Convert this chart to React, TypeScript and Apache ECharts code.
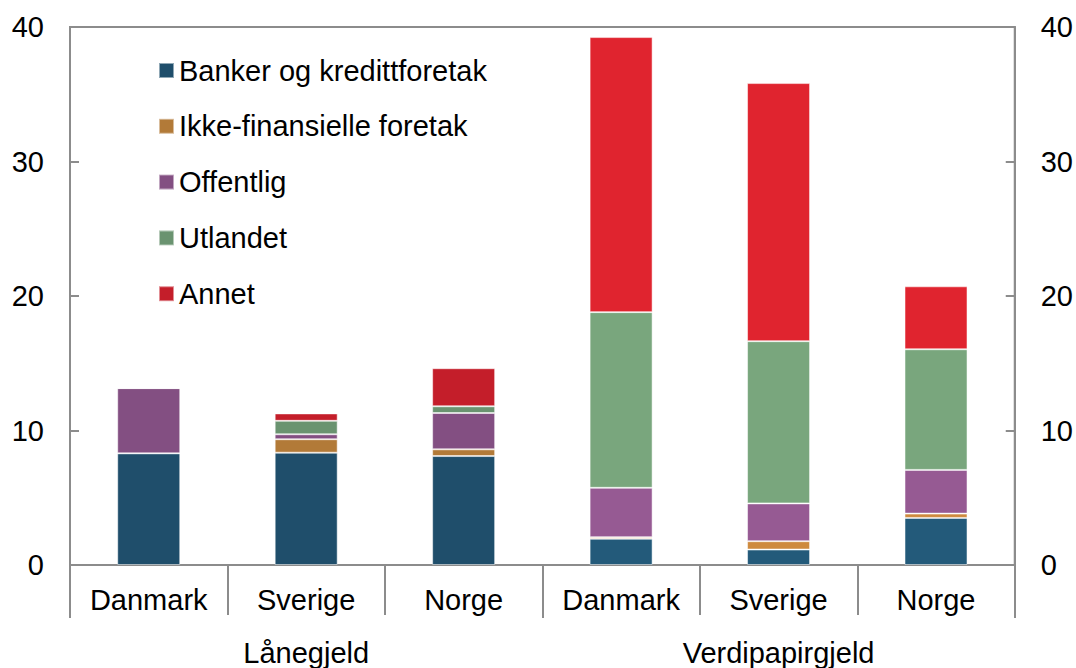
import React, { useEffect, useRef } from "react";
import * as echarts from "echarts";

const categories = ["Danmark", "Sverige", "Norge", "Danmark", "Sverige", "Norge"];
const groups = ["Lånegjeld", "Verdipapirgjeld"];
const yTicks = [0, 10, 20, 30, 40];

const seriesNames = [
  "Banker og kredittforetak",
  "Ikke-finansielle foretak",
  "Offentlig",
  "Utlandet",
  "Annet",
];
const banker = [8.3, 8.35, 8.1, 1.95, 1.15, 3.5];
const ikkeFin = [0, 1.0, 0.5, 0.12, 0.62, 0.32];
const offentlig = [4.85, 0.37, 2.7, 3.67, 2.81, 3.25];
const utlandet = [0, 1.0, 0.5, 13.06, 12.06, 8.97];
const annet = [0, 0.55, 2.83, 20.45, 19.19, 4.68];

const darkColors = ["#1F4E6B", "#B27A38", "#834F82", "#6A9370", "#C41E2A"];
const lightColors = ["#235A7A", "#CE8A3E", "#965A93", "#79A67D", "#E0242F"];

const allValues = [banker, ikkeFin, offentlig, utlandet, annet];

const FONT = "Liberation Sans, Arial, sans-serif";
const AXIS_GRAY = "#8C8C8C";
const FS = 29;

export default function App() {
  const ref = useRef<HTMLDivElement>(null);
  useEffect(() => {
    if (!ref.current) return;
    const chart = echarts.init(ref.current, undefined, { renderer: "svg" });
    const yAxisCommon = {
      type: "value",
      min: yTicks[0],
      max: yTicks[yTicks.length - 1],
      interval: 10,
      axisLine: { show: true, lineStyle: { color: AXIS_GRAY, width: 2 } },
      axisTick: { show: true, inside: true, length: 9, lineStyle: { color: AXIS_GRAY, width: 2 } },
      splitLine: { show: false },
      axisLabel: { fontSize: FS, color: "#000", fontFamily: FONT, margin: 26 },
    };
    chart.setOption({
      animation: false,
      textStyle: { fontFamily: FONT },
      grid: {
        left: 70,
        right: 61,
        top: 27,
        bottom: 103,
        show: true,
        borderColor: AXIS_GRAY,
        borderWidth: 2,
        containLabel: false,
      },
      legend: {
        orient: "vertical",
        left: 153,
        top: 51,
        itemWidth: 15,
        itemHeight: 15,
        itemGap: 26.8,
        icon: "rect",
        textStyle: { fontSize: FS, color: "#000", fontFamily: FONT, lineHeight: 29, padding: [0, 0, 0, 0] },
        data: seriesNames,
      },
      xAxis: [
        {
          type: "category",
          data: categories,
          position: "bottom",
          axisLine: { show: true, lineStyle: { color: AXIS_GRAY, width: 2 } },
          axisTick: { show: true, length: 50, alignWithLabel: false, lineStyle: { color: AXIS_GRAY, width: 2 } },
          axisLabel: { fontSize: FS, color: "#000", fontFamily: FONT, margin: 20 },
        },
        {
          type: "category",
          data: groups,
          position: "bottom",
          offset: 50,
          axisLine: { show: false },
          axisTick: { show: true, length: 53, alignWithLabel: false, lineStyle: { color: AXIS_GRAY, width: 2 } },
          axisLabel: { fontSize: FS, color: "#000", fontFamily: FONT, margin: 23 },
        },
      ],
      yAxis: [
        { ...yAxisCommon, position: "left" },
        { ...yAxisCommon, position: "right" },
      ],
      series: seriesNames.map((name, si) => ({
        name,
        type: "bar",
        stack: "total",
        xAxisIndex: 0,
        yAxisIndex: 0,
        barWidth: 63,
        itemStyle: { color: darkColors[si], borderColor: "rgba(255,255,255,0.5)", borderWidth: 1 },
        data: allValues[si].map((v, ci) => ({
          value: v,
          itemStyle: { color: ci < 3 ? darkColors[si] : lightColors[si] },
        })),
      })),
    });
    return () => chart.dispose();
  }, []);
  return (
    <div
      ref={ref}
      style={{ position: "fixed", left: 0, top: 0, width: 1076, height: 668, background: "#fff" }}
    />
  );
}
